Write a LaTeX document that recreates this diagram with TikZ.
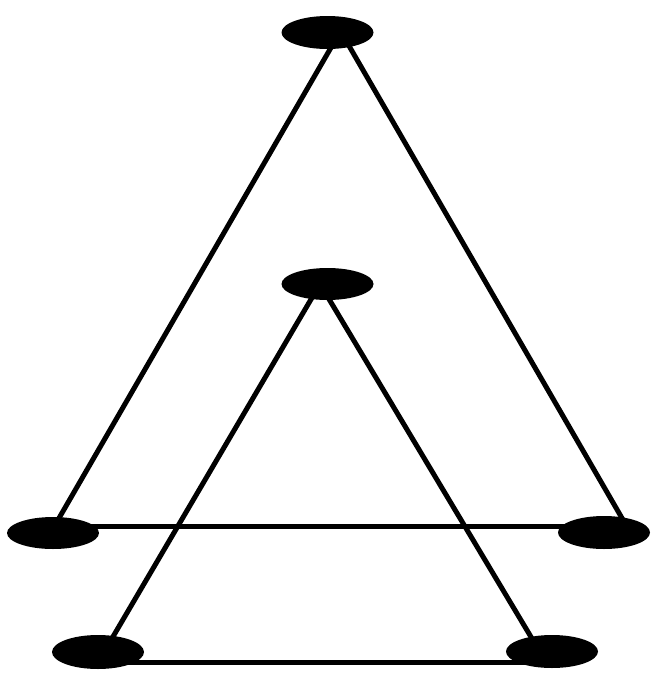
\documentclass[tikz,border=0pt]{standalone}
\usetikzlibrary{shapes.geometric}
\begin{document}
\begin{tikzpicture}[x=1pt,y=-1pt,
  blob/.style={ellipse,fill=black,inner sep=0pt,minimum width=92pt,minimum height=33pt},
  edge/.style={line width=5pt,black}]
\useasboundingbox (0,0) rectangle (667,678);
% port coordinates
\coordinate (tL) at (340,32);
\coordinate (tR) at (341,32);
\coordinate (lmT) at (51,532);
\coordinate (rmT) at (630,532);
\coordinate (lmR) at (53,526.5);
\coordinate (rmL) at (604,526.5);
\coordinate (mP) at (320,284);
\coordinate (blT) at (104,652);
\coordinate (brT) at (540,652);
\coordinate (blR) at (98,662.5);
\coordinate (brL) at (552,662.5);
% edges
\draw[edge] (tL) -- (lmT);
\draw[edge] (tR) -- (rmT);
\draw[edge] (lmR) -- (rmL);
\draw[edge] (mP) -- (blT);
\draw[edge] (mP) -- (brT);
\draw[edge] (blR) -- (brL);
% nodes
\node[blob] (T) at (327.5,32.5) {};
\node[blob,minimum height=32pt] (M) at (327.5,284) {};
\node[blob,minimum height=32pt] (LM) at (53,533) {};
\node[blob] (RM) at (604,532.5) {};
\node[blob,minimum height=34pt] (BL) at (98,652) {};
\node[blob] (BR) at (552,651.5) {};
\end{tikzpicture}
\end{document}
